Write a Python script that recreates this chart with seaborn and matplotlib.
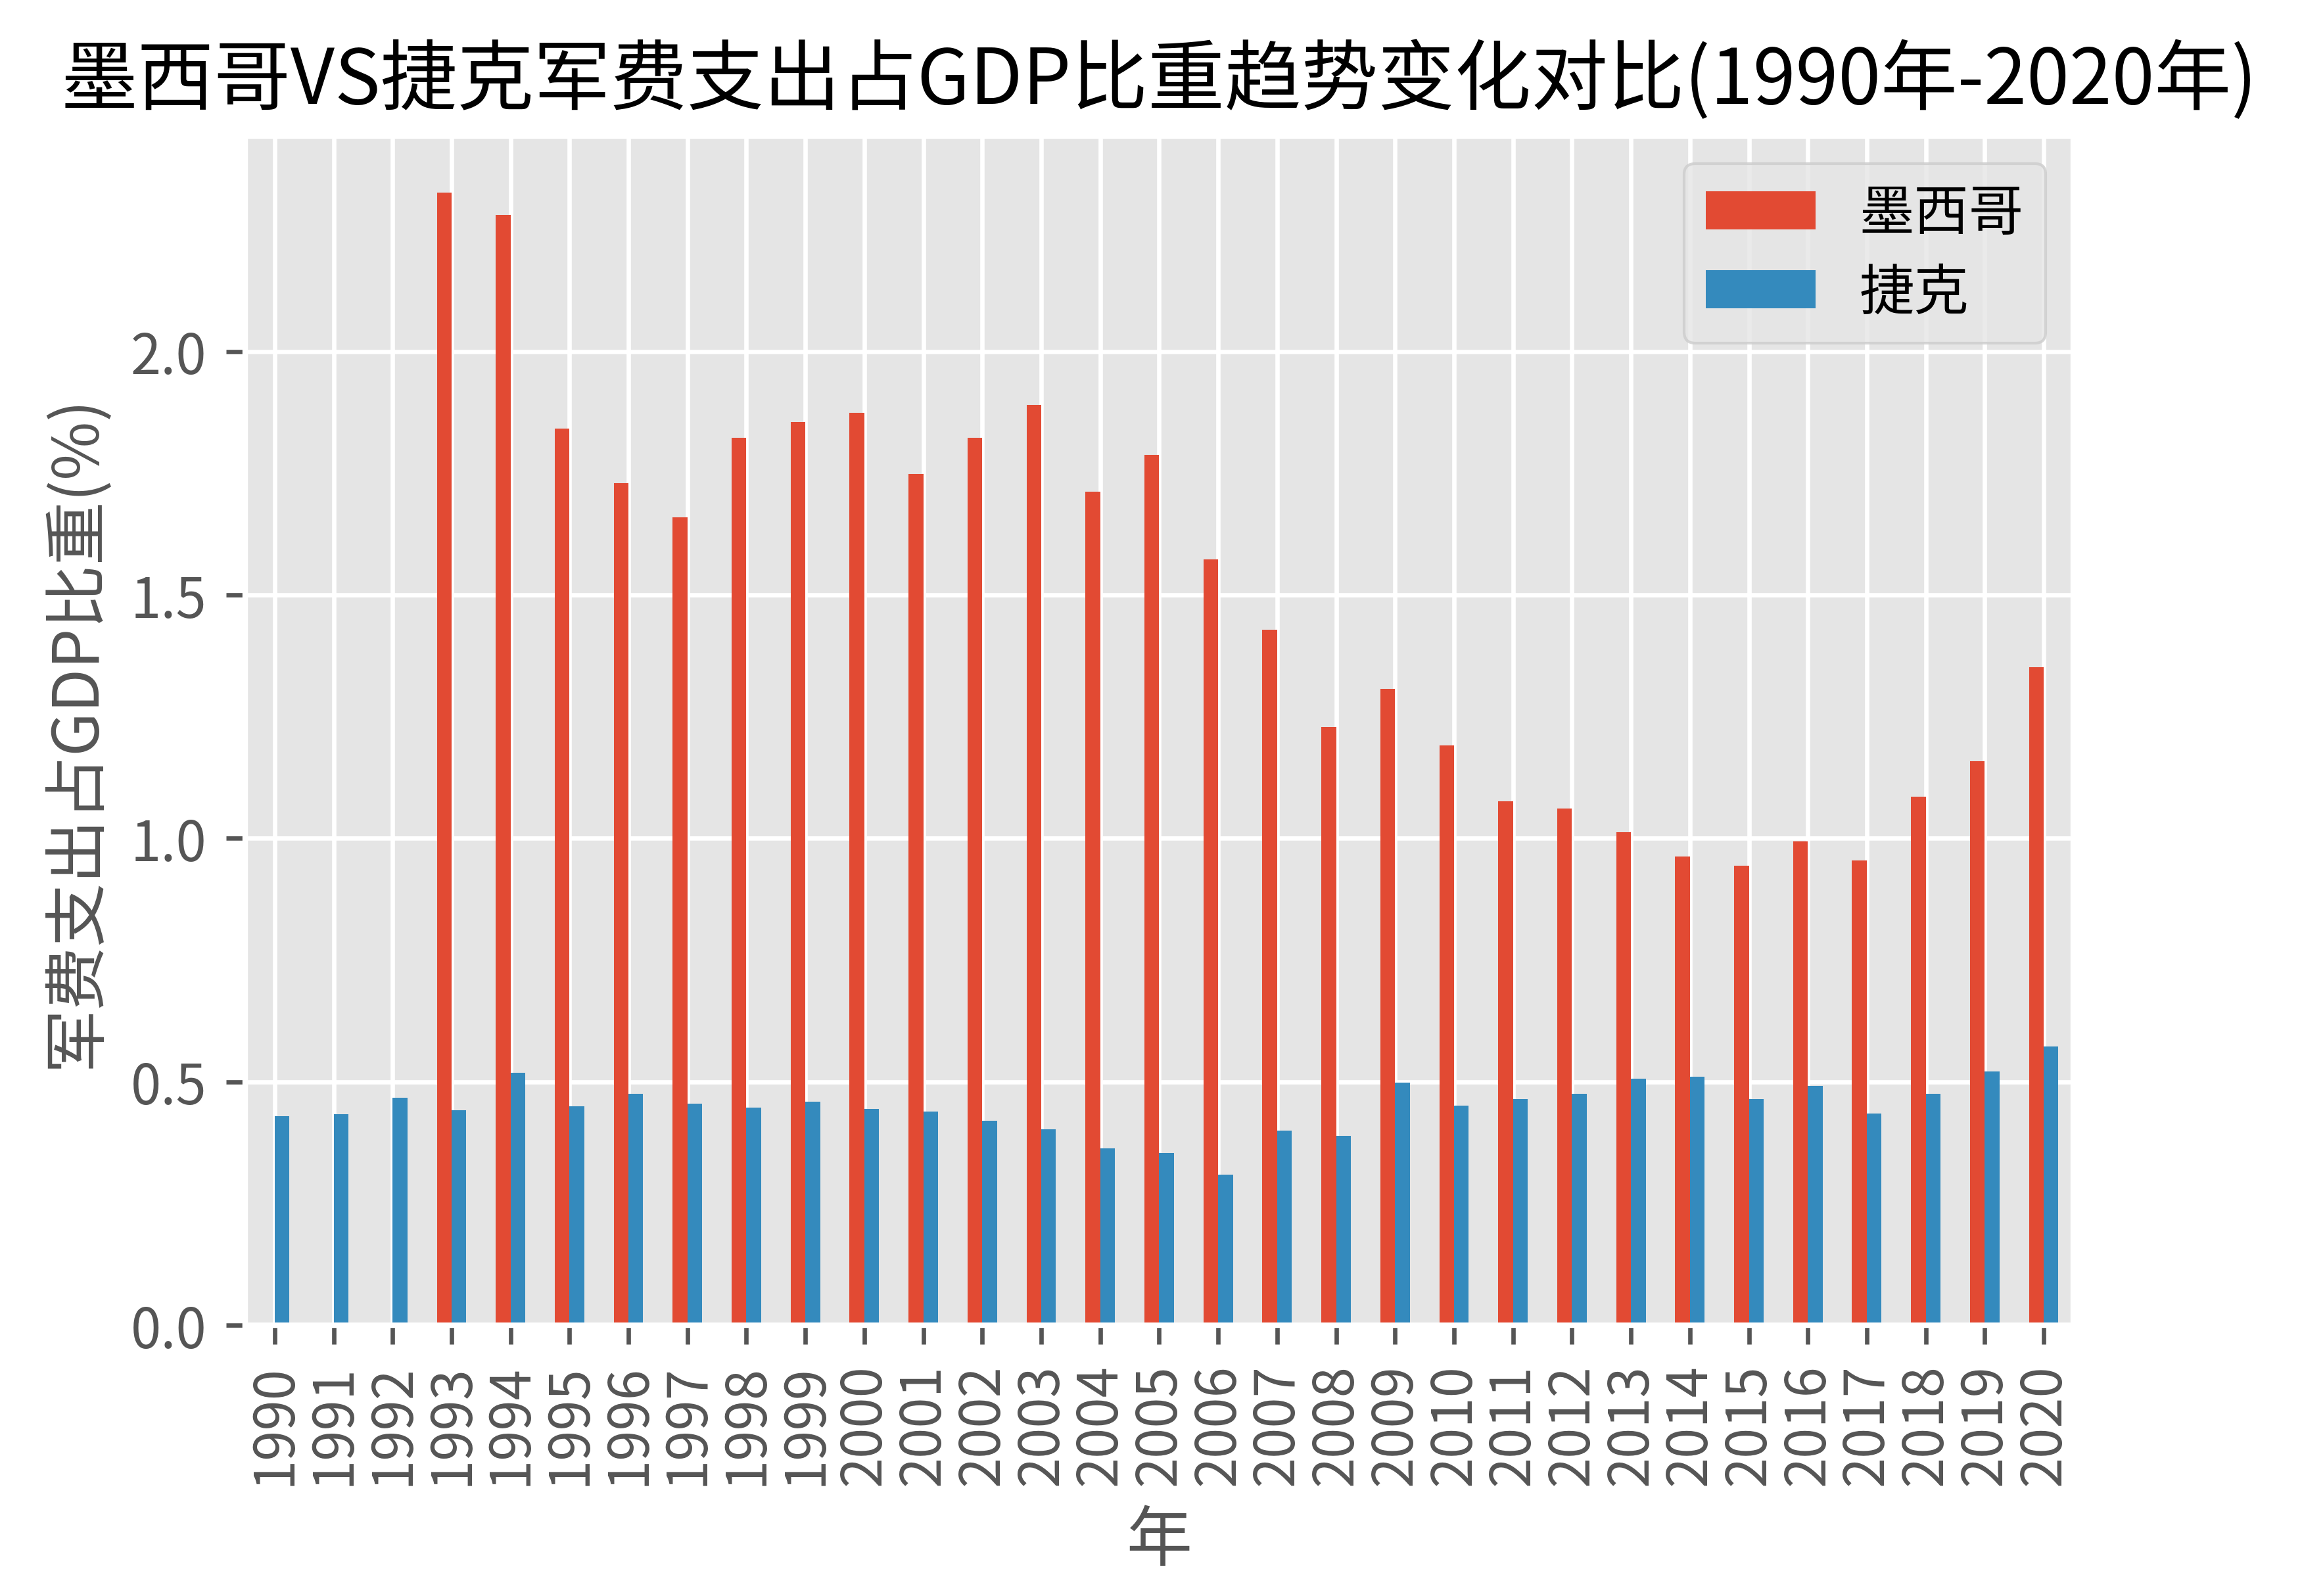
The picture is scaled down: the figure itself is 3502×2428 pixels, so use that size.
import matplotlib
matplotlib.use("Agg")
import matplotlib.pyplot as plt
import seaborn as sns
import numpy as np
import pandas as pd

years = [str(y) for y in range(1990, 2021)]
mexico = [np.nan, np.nan, np.nan, 2.326, 2.280, 1.841, 1.729, 1.659, 1.823, 1.855,
          1.874, 1.748, 1.822, 1.890, 1.712, 1.787, 1.573, 1.428, 1.229, 1.307,
          1.191, 1.076, 1.061, 1.013, 0.963, 0.944, 0.994, 0.954, 1.086, 1.158,
          1.352]
czech = [0.430, 0.433, 0.467, 0.441, 0.518, 0.449, 0.475, 0.455, 0.447, 0.459,
         0.444, 0.439, 0.420, 0.403, 0.363, 0.354, 0.309, 0.400, 0.389, 0.498,
         0.451, 0.465, 0.475, 0.506, 0.511, 0.465, 0.492, 0.435, 0.475, 0.521,
         0.572]
series_names = ["墨西哥", "捷克"]
colors = ["#E24A33", "#348ABD"]

df = pd.DataFrame({
    "年": years * 2,
    "值": mexico + czech,
    "国家": [series_names[0]] * len(years) + [series_names[1]] * len(years),
})

plt.style.use("ggplot")
plt.rcParams["font.family"] = ["Noto Sans CJK SC", "DejaVu Sans"]
plt.rcParams["axes.unicode_minus"] = False

fig = plt.figure(figsize=(3502 / 600, 2429 / 600), dpi=600)
ax = fig.add_axes([0.1065, 0.1696, 0.9006 - 0.1065, 0.9144 - 0.1696])

sns.barplot(data=df, x="年", y="值", hue="国家", hue_order=series_names,
            order=years, palette=colors, width=0.5, gap=0, saturation=1,
            errorbar=None, ax=ax, linewidth=0, edgecolor="none")

ax.set_xlim(-0.5, len(years) - 0.5)
ax.set_ylim(0, np.nanmax(mexico) * 1.05)
ax.grid(True)
ax.xaxis.grid(True, color="white")
ax.yaxis.grid(True, color="white")
ax.set_axisbelow(True)
ax.set_yticks([0.0, 0.5, 1.0, 1.5, 2.0])
ax.set_yticklabels(["0.0", "0.5", "1.0", "1.5", "2.0"])
plt.setp(ax.get_xticklabels(), rotation=90)
ax.set_xlabel("年")
ax.set_ylabel("军费支出占GDP比重(%)", fontsize=11.6)
ax.set_title("墨西哥VS捷克军费支出占GDP比重趋势变化对比(1990年-2020年)", fontsize=14.0)

handles, labels = ax.get_legend_handles_labels()
ax.legend(handles, labels, loc="upper right", labelspacing=0.4)

fig.savefig("out.png", dpi=600)
